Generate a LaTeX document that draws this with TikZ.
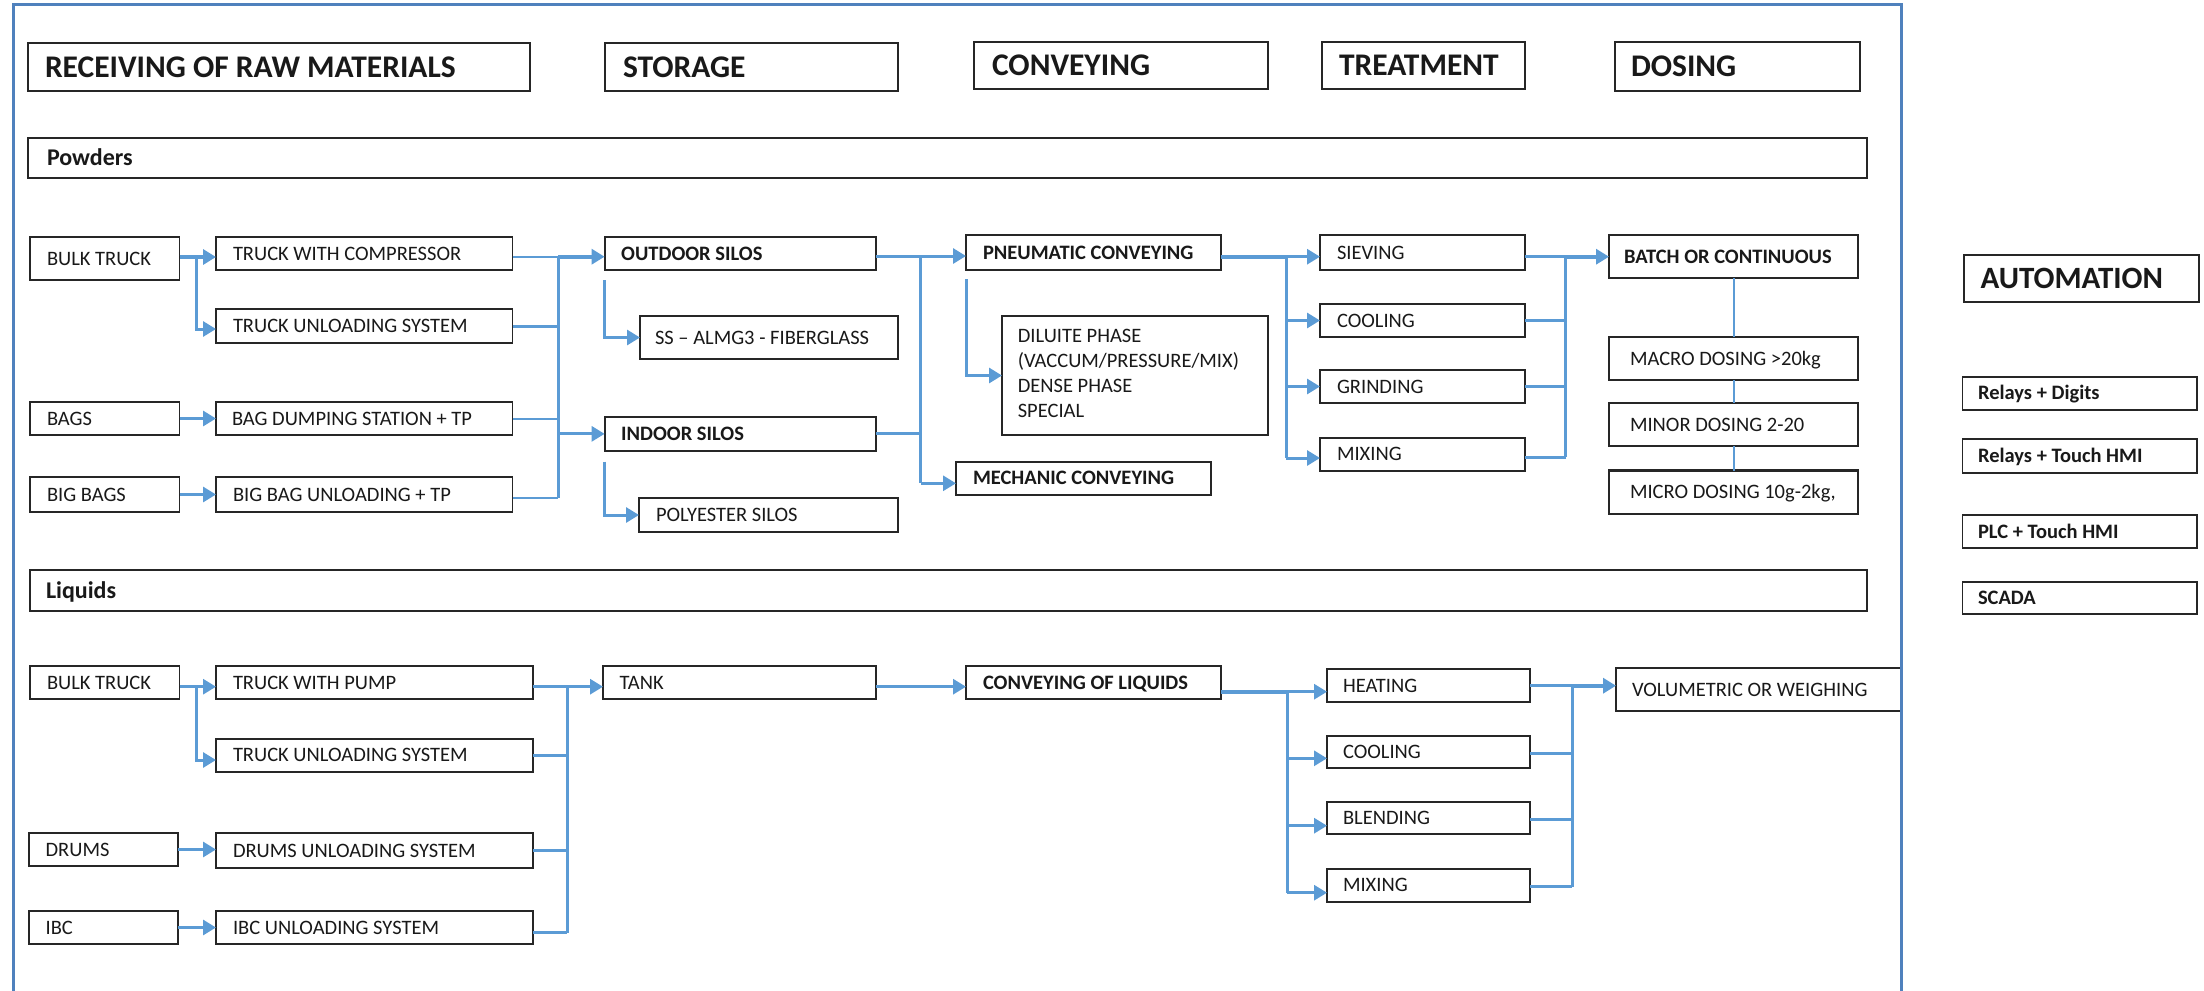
\documentclass[tikz,border=0pt]{standalone}
\usepackage{fontspec}
\setmainfont{Carlito}
\usetikzlibrary{arrows.meta,calc}
\definecolor{conncol}{RGB}{91,155,213}
\definecolor{framecol}{RGB}{79,129,189}
\newcommand\myreg{\fontsize{20.5bp}{25bp}\selectfont}
\newcommand\mybld{\fontsize{20.5bp}{25bp}\selectfont\bfseries}
\newcommand\myhdr{\fontsize{31.5bp}{36bp}\selectfont\bfseries}
\newcommand\mysec{\fontsize{24bp}{28bp}\selectfont\bfseries}
\newcommand\myauto{\fontsize{31bp}{36bp}\selectfont\bfseries}
% \bx{style}{name}{x1}{y1}{x2}{y2}{inset}{text}
\newcommand\bx[8]{%
  \node[box,#1,minimum width={(#5-#3)*1bp},minimum height={(#6-#4)*1bp}] (#2) at (#3,#4) {};
  \node[lbl,#1] (#2t) at ($(#2.west)+(#7,0)$) {#8};}
\begin{document}
\begin{tikzpicture}[x=1bp,y=-1bp,
  box/.style={draw=black!85,line width=1.8bp,fill=white,inner sep=0pt,outer sep=0pt,anchor=north west},
  dosebox/.style={line width=2.6bp},
  lbl/.style={anchor=west,inner sep=0pt,outer sep=0pt,text depth=0pt,text=black!90},
  reg/.style={font=\myreg,text height=13bp},
  bld/.style={font=\mybld,text height=13bp},
  hdr/.style={font=\myhdr,text height=20bp},
  sec/.style={font=\mysec,text height=15.2bp},
  autohdr/.style={font=\myauto,text height=19.6bp},
  ln/.style={draw=conncol,line width=3bp},
  lk/.style={draw=conncol,line width=4bp},
  lt/.style={draw=conncol,line width=2bp},
  arr/.style={-{Triangle[length=13bp,width=15bp]}}]
\useasboundingbox (0,0) rectangle (2204,990);

% headers
\bx{hdr}{h1}{28}{43}{530}{91}{17}{RECEIVING OF RAW MATERIALS}
\bx{hdr}{h2}{605}{43}{898}{91}{18}{STORAGE}
\bx{hdr}{h3}{974}{42}{1268}{89}{18}{CONVEYING}
\bx{hdr}{h4}{1322}{42}{1525}{89}{17}{TREATMENT}
\bx{hdr}{h5}{1615}{42}{1860}{91}{16}{DOSING}
\bx{sec}{pw}{28}{138}{1867}{178}{19}{Powders}
\bx{sec}{lq}{30}{570}{1867}{611}{16}{Liquids}

% powders
\bx{reg}{bt1}{30}{237}{179.5}{280}{17}{BULK TRUCK}
\bx{reg}{twc}{216}{237}{512.5}{270}{17}{TRUCK WITH COMPRESSOR}
\bx{reg}{tus1}{216}{309}{512.5}{343}{17}{TRUCK UNLOADING SYSTEM}
\bx{reg}{bags}{30}{402}{179.5}{435}{17}{BAGS}
\bx{reg}{bds}{216}{402}{512.5}{435}{16}{BAG DUMPING STATION + TP}
\bx{reg}{bb}{30}{477}{179.5}{512}{17}{BIG BAGS}
\bx{reg}{bbu}{216}{477}{512.5}{512}{17}{BIG BAG UNLOADING + TP}
\bx{bld}{outs}{604.6}{237}{876}{270}{16.6}{OUTDOOR SILOS}
\bx{reg}{ss}{640}{316}{898}{359}{15}{SS – ALMG3 - FIBERGLASS}
\bx{bld}{ins}{604.6}{417}{876}{450.7}{16.6}{INDOOR SILOS}
\bx{reg}{poly}{639}{498}{898}{532}{17}{POLYESTER SILOS}
\bx{bld}{pneu}{966}{235}{1220.7}{270}{17}{PNEUMATIC CONVEYING}
\node[box,minimum width={266bp},minimum height={119bp}] (dil) at (1002,316) {};
\node[anchor=north west,inner sep=0pt,align=left,font=\myreg,text=black!90] (dilt) at (1017.6,328.5)
  {DILUITE PHASE\\(VACCUM/PRESSURE/MIX)\\DENSE PHASE\\SPECIAL};
\bx{bld}{mech}{956}{461.7}{1211}{495}{17}{MECHANIC CONVEYING}
\bx{reg}{siev}{1320}{235}{1525}{270}{17}{SIEVING}
\bx{reg}{cool1}{1320}{304}{1525}{337}{17}{COOLING}
\bx{reg}{grind}{1320}{370}{1525}{403}{17}{GRINDING}
\bx{reg}{mix1}{1320}{437.7}{1525}{470.7}{17}{MIXING}
\bx{bld,dosebox}{batch}{1609}{235}{1858}{278}{15}{BATCH OR CONTINUOUS}
\bx{reg,dosebox}{macro}{1609}{337}{1858}{380}{21}{MACRO DOSING >20kg}
\bx{reg,dosebox}{minor}{1609}{403}{1858}{446}{21}{MINOR DOSING 2-20}
\bx{reg,dosebox}{micro}{1609}{470.7}{1858}{514}{21}{MICRO DOSING 10g-2kg,}

% automation
\bx{autohdr}{autom}{1964}{255}{2199}{301.7}{16.6}{AUTOMATION}
\bx{bld}{rd}{1962.5}{376.7}{2197}{410}{15.5}{Relays + Digits}
\bx{bld}{rt}{1962.5}{439}{2197}{472.7}{15.5}{Relays + Touch HMI}
\bx{bld}{plc}{1962.5}{515}{2197}{548}{15.5}{PLC + Touch HMI}
\bx{bld}{scada}{1962.5}{581.7}{2197}{614}{15.5}{SCADA}

% liquids
\bx{reg}{bt2}{30}{666}{179.5}{699}{17}{BULK TRUCK}
\bx{reg}{twp}{216}{666}{532.6}{699}{17}{TRUCK WITH PUMP}
\bx{reg}{tus2}{216}{739}{532.6}{771.7}{17}{TRUCK UNLOADING SYSTEM}
\bx{reg}{drums}{28.6}{833}{177.7}{866}{17}{DRUMS}
\bx{reg}{dus}{216}{833}{532.6}{868}{17}{DRUMS UNLOADING SYSTEM}
\bx{reg}{ibc}{28.6}{911}{177.7}{944}{17}{IBC}
\bx{reg}{ibcus}{216}{911}{532.6}{944}{17}{IBC UNLOADING SYSTEM}
\bx{reg}{tank}{603}{666}{876}{699}{16.5}{TANK}
\bx{bld}{col}{966}{666}{1220.7}{699}{17}{CONVEYING OF LIQUIDS}
\bx{reg}{heat}{1327}{669}{1530}{702}{16}{HEATING}
\bx{reg}{cool2}{1327}{735.7}{1530}{768}{16}{COOLING}
\bx{reg}{blend}{1327}{801.7}{1530}{834}{16}{BLENDING}
\bx{reg}{mix2}{1327}{869}{1530}{901.7}{16}{MIXING}
\bx{reg}{vol}{1616}{668}{1910}{711}{16}{VOLUMETRIC OR WEIGHING}

% ---------- connectors: powders ----------
\coordinate (sA) at (196.4,257); \coordinate (sB) at (196.4,329);
\draw[lk] (bt1.east |- sA) -- (sA);
\draw[lk,arr] (sA) -- (twc.west |- sA);
\draw[ln,arr] (sA) -- (sB) -- (tus1.west |- sB);
\draw[ln,arr] (bags) -- (bds);
\draw[ln,arr] (bb) -- (bbu);

\coordinate (m1a) at (558,256.7); \coordinate (m1b) at (558,498);
\draw[lt] (twc.east |- m1a) -- (m1a);
\draw[ln] (tus1.east) -- (tus1.east -| m1a);
\draw[lt] (bds.east) -- (bds.east -| m1a);
\draw[lt] (bbu.east |- m1b) -- (m1b);
\draw[ln] (m1a) -- (m1b);
\draw[lk,arr] (m1a) -- (outs.west |- m1a);
\draw[ln,arr] (m1a |- ins.west) -- (ins.west);

\coordinate (o1) at (604,280); \coordinate (o2) at (604,461.7);
\draw[ln,arr] (o1) |- (ss.west);
\draw[ln,arr] (o2) |- (poly.west);

\coordinate (m2a) at (920.7,256); \coordinate (m2b) at (920.7,483.3);
\draw[ln] (outs.east |- m2a) -- (m2a);
\draw[ln] (ins.east) -- (ins.east -| m2a);
\draw[ln] (m2a) -- (m2b);
\draw[ln,arr] (m2a) -- (pneu.west |- m2a);
\draw[ln,arr] (m2b) -- (mech.west |- m2b);

\coordinate (p1) at (966,279);
\draw[ln,arr] (p1) |- (dil.west);

\coordinate (m3a) at (1286,256.7); \coordinate (m3b) at (1286,458);
\draw[lk] (pneu.east |- m3a) -- (m3a);
\draw[ln] (m3a) -- (m3b);
\draw[ln,arr] (m3a) -- (siev.west |- m3a);
\draw[ln,arr] (m3a |- cool1.west) -- (cool1.west);
\draw[ln,arr] (m3a |- grind.west) -- (grind.west);
\draw[ln,arr] (m3b) -- (mix1.west |- m3b);

\coordinate (m4a) at (1565.7,256.7); \coordinate (m4b) at (1565.7,457);
\draw[ln] (siev.east |- m4a) -- (m4a);
\draw[ln] (cool1.east) -- (cool1.east -| m4a);
\draw[ln] (grind.east) -- (grind.east -| m4a);
\draw[ln] (mix1.east |- m4b) -- (m4b);
\draw[ln] (m4a) -- (m4b);
\draw[lk,arr] (m4a) -- (batch.west |- m4a);

\draw[lt] (batch) -- (macro);
\draw[lt] (macro) -- (minor);
\draw[lt] (minor) -- (micro);

% ---------- connectors: liquids ----------
\coordinate (sC) at (196.4,686.7); \coordinate (sD) at (196.4,760);
\draw[ln] (bt2.east |- sC) -- (sC);
\draw[ln,arr] (sC) -- (twp.west |- sC);
\draw[ln,arr] (sC) -- (sD) -- (tus2.west |- sD);
\draw[ln,arr] (drums.east) -- (drums.east -| dus.west);
\draw[ln,arr] (ibc) -- (ibcus);

\coordinate (m5a) at (567,686.7); \coordinate (m5b) at (567,932.7);
\draw[ln] (twp.east |- m5a) -- (m5a);
\draw[ln] (tus2.east) -- (tus2.east -| m5a);
\draw[ln] (dus.east) -- (dus.east -| m5a);
\draw[ln] (ibcus.east |- m5b) -- (m5b);
\draw[ln] (m5a) -- (m5b);
\draw[ln,arr] (m5a) -- (tank.west |- m5a);
\draw[ln,arr] (tank.east |- m5a) -- (col.west |- m5a);

\coordinate (m6a) at (1287.3,691.7); \coordinate (m6c) at (1287.3,758.3);
\coordinate (m6d) at (1287.3,825.7); \coordinate (m6b) at (1287.3,892.7);
\draw[lk] (col.east |- m6a) -- (m6a);
\draw[ln] (m6a) -- (m6b);
\draw[ln,arr] (m6a) -- (heat.west |- m6a);
\draw[ln,arr] (m6c) -- (cool2.west |- m6c);
\draw[ln,arr] (m6d) -- (blend.west |- m6d);
\draw[ln,arr] (m6b) -- (mix2.west |- m6b);

\coordinate (m7a) at (1572,685.7); \coordinate (m7c) at (1572,753.3);
\coordinate (m7d) at (1572,819); \coordinate (m7b) at (1572,886.7);
\draw[ln] (heat.east |- m7a) -- (m7a);
\draw[ln] (cool2.east |- m7c) -- (m7c);
\draw[ln] (blend.east |- m7d) -- (m7d);
\draw[ln] (mix2.east |- m7b) -- (m7b);
\draw[ln] (m7a) -- (m7b);
\draw[lk,arr] (m7a) -- (vol.west |- m7a);

% outer frame
\fill[white] (1902.5,600) rectangle (1925,720);
\draw[framecol,line width=3bp] (13,1000) -- (13,4) -- (1901,4) -- (1901,1000);
\end{tikzpicture}
\end{document}
